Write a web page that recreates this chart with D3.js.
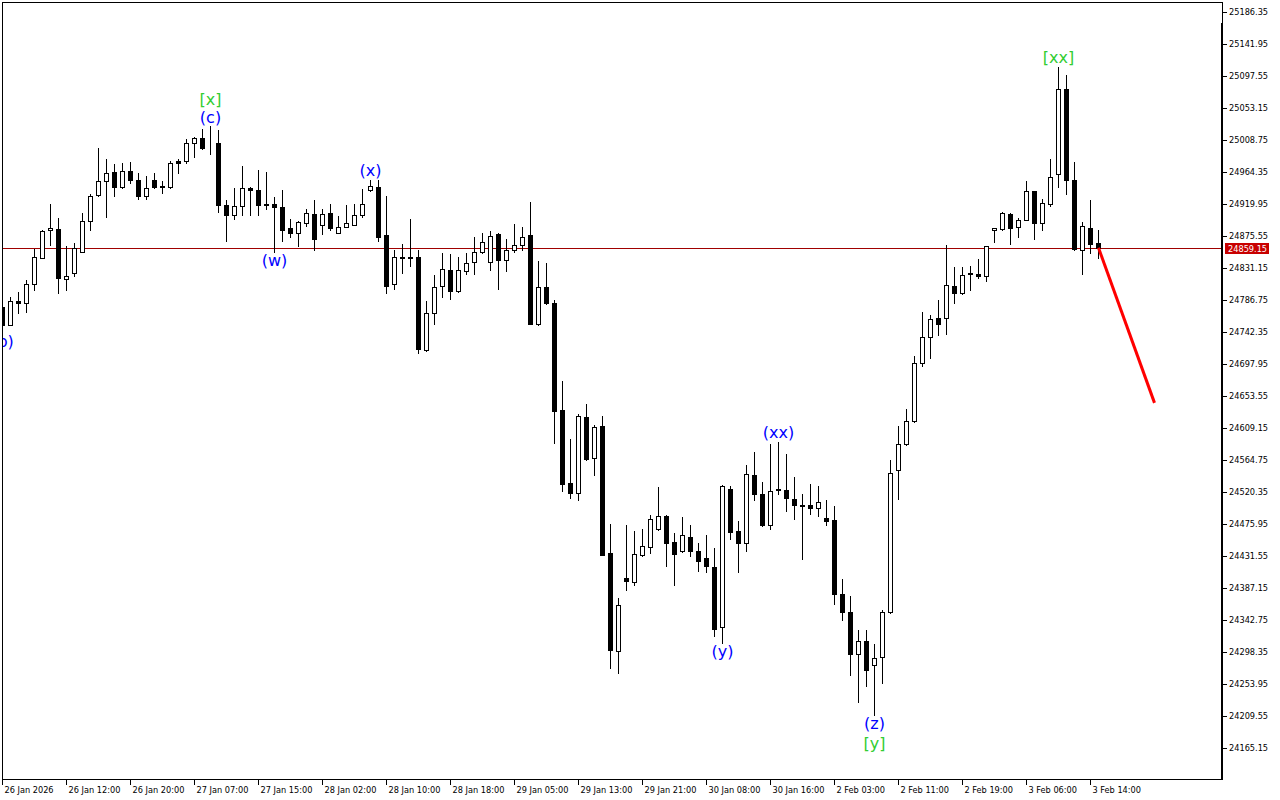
<!DOCTYPE html>
<html><head><meta charset="utf-8">
<script src="https://cdn.jsdelivr.net/npm/d3@7"></script>
<style>body{margin:0;background:#fff}svg{display:block}</style>
</head><body><svg id="c" width="1280" height="800"></svg>
<script>
// ---- data (H1 candles) ----
const opens = [24777.0,24752.1,24785.4,24782.6,24809.0,24845.7,24883.9,24884.6,24815.9,24824.2,
24854.0,24896.4,24932.4,24951.9,24964.4,24944.2,24965.7,24953.3,24930.4,24953.9,
24945.6,24944.2,24980.3,24979.6,25004.6,25012.2,24999.7,25004.6,24918.6,24904.0,
24916.5,24942.8,24939.4,24917.9,24920.6,24915.1,24886.7,24880.4,24893.6,24905.4,
24891.5,24906.8,24880.4,24888.7,24891.5,24904.0,24938.7,24944.2,24877.6,24809.6,
24846.4,24845.7,24846.4,24716.7,24769.4,24805.5,24828.4,24799.9,24826.3,24838.8,
24852.7,24838.8,24878.3,24842.9,24856.8,24862.4,24876.9,24752.8,24804.1,24781.9,
24634.1,24532.8,24518.3,24624.4,24568.2,24611.9,24435.7,24300.4,24401.0,24394.8,
24433.6,24444.7,24469.7,24487.1,24450.3,24437.8,24458.6,24437.8,24428.1,24415.6,
24333.7,24525.2,24466.2,24448.9,24543.9,24517.6,24473.9,24525.2,24523.8,24511.3,
24503.0,24503.0,24497.5,24483.6,24481.5,24379.5,24353.2,24294.9,24314.3,24281.0,
24292.1,24353.2,24550.2,24586.3,24618.2,24699.3,24735.4,24761.8,24761.1,24805.5,
24796.5,24824.2,24823.5,24820.7,24883.2,24884.6,24906.1,24888.7,24898.4,24937.3,
24892.9,24919.3,24960.9,25079.5,24953.3,24856.8,24887.3,24865.8];
const highs = [24779.8,24790.9,24797.9,24814.5,24857.5,24883.9,24920.0,24900.5,24861.0,24865.8,
24907.5,24933.8,24997.0,24982.4,24975.5,24976.8,24978.2,24963.0,24958.8,24963.0,
24951.9,24979.6,24982.4,25010.1,25012.9,25024.7,25027.5,25023.3,24925.5,24942.8,
24972.7,24943.5,24967.1,24965.0,24929.0,24939.4,24899.1,24896.4,24913.0,24925.5,
24913.0,24920.6,24903.3,24918.6,24920.6,24940.8,24953.9,24953.3,24931.1,24856.8,
24865.1,24899.1,24856.1,24785.4,24821.4,24852.0,24850.6,24846.4,24852.0,24873.5,
24879.7,24881.8,24879.7,24871.4,24892.2,24888.0,24922.7,24840.9,24838.1,24786.8,
24674.4,24593.9,24628.6,24642.5,24613.3,24625.8,24476.0,24372.6,24474.6,24466.2,
24469.0,24488.4,24527.3,24488.4,24463.5,24485.7,24474.6,24448.9,24460.0,24442.0,
24530.1,24528.7,24480.1,24557.8,24575.2,24534.9,24587.0,24590.4,24573.1,24540.5,
24517.6,24531.5,24528.7,24509.3,24501.6,24400.3,24376.1,24328.2,24328.2,24310.1,
24356.6,24565.4,24611.9,24636.2,24708.4,24770.1,24766.6,24786.8,24863.1,24832.5,
24832.5,24833.9,24843.6,24861.7,24886.7,24908.2,24907.5,24901.2,24951.9,24938.0,
24926.9,24982.4,25110.7,25098.9,24978.2,24894.3,24925.5,24883.9];
const lows = [24750.7,24751.4,24768.7,24770.1,24800.6,24845.0,24862.4,24795.8,24800.6,24820.7,
24852.7,24883.9,24931.7,24902.6,24930.4,24941.5,24948.4,24926.9,24926.9,24941.5,
24935.9,24942.8,24962.3,24977.5,24984.5,24996.3,24990.0,24909.5,24869.3,24899.1,
24904.7,24904.7,24904.7,24913.0,24853.4,24869.3,24873.5,24861.0,24889.4,24856.1,
24878.3,24883.9,24879.7,24888.0,24891.0,24901.9,24938.0,24869.3,24795.8,24802.7,
24824.9,24833.9,24713.9,24716.0,24752.8,24791.6,24788.8,24798.5,24823.5,24823.5,
24851.3,24827.7,24802.7,24826.3,24854.0,24856.8,24753.5,24751.4,24781.2,24589.0,
24522.4,24512.7,24508.6,24564.8,24543.9,24432.9,24276.8,24269.9,24383.7,24392.0,
24432.2,24436.4,24468.3,24417.0,24392.0,24437.1,24432.2,24411.4,24410.0,24319.9,
24311.5,24455.8,24410.0,24437.8,24509.3,24473.5,24469.0,24517.6,24493.3,24482.2,
24426.7,24490.5,24486.4,24473.9,24365.6,24343.4,24267.1,24228.3,24250.5,24211.6,
24256.0,24352.5,24510.6,24585.6,24617.5,24695.2,24706.3,24738.2,24739.6,24781.9,
24795.1,24800.6,24817.3,24813.8,24867.9,24883.9,24864.5,24873.5,24897.7,24871.4,
24883.9,24916.5,24944.2,24934.5,24856.0,24823.5,24851.3,24845.0];
const closes = [24752.1,24785.4,24782.6,24809.0,24846.4,24881.8,24886.0,24817.3,24820.7,24858.9,
24895.7,24931.7,24951.9,24962.3,24944.2,24965.7,24953.9,24931.7,24941.5,24944.2,
24944.2,24977.5,24977.5,25004.6,25012.2,24998.3,24999.0,24918.6,24904.7,24916.5,
24941.5,24938.7,24917.9,24920.6,24915.1,24883.9,24880.4,24894.3,24906.8,24870.7,
24905.4,24886.0,24888.7,24892.9,24904.0,24920.6,24945.6,24873.5,24805.5,24846.4,
24845.7,24846.4,24718.1,24769.4,24804.1,24829.1,24799.9,24827.7,24837.4,24854.0,
24867.9,24876.2,24842.9,24856.8,24862.4,24873.5,24754.1,24804.1,24781.9,24633.4,
24532.1,24518.3,24625.8,24566.1,24610.5,24433.6,24301.1,24363.6,24396.2,24435.0,
24445.4,24482.2,24486.4,24448.9,24435.0,24460.0,24437.8,24425.3,24417.0,24329.6,
24528.7,24464.2,24448.9,24546.0,24516.9,24473.9,24522.4,24523.8,24512.7,24503.0,
24501.6,24497.5,24505.8,24480.8,24379.5,24353.2,24294.9,24314.3,24272.7,24290.7,
24353.9,24547.4,24586.3,24618.2,24699.3,24735.4,24760.4,24754.1,24806.9,24796.5,
24822.1,24822.8,24819.4,24861.0,24886.0,24906.8,24887.3,24898.4,24937.3,24892.9,
24922.0,24957.4,25080.2,24952.6,24857.5,24889.4,24863.8,24859.15];

const timeLabels = ["26 Jan 2026","26 Jan 12:00","26 Jan 20:00","27 Jan 07:00","27 Jan 15:00",
"28 Jan 02:00","28 Jan 10:00","28 Jan 18:00","29 Jan 05:00","29 Jan 13:00","29 Jan 21:00",
"30 Jan 08:00","30 Jan 16:00","2 Feb 03:00","2 Feb 11:00","2 Feb 19:00","3 Feb 06:00","3 Feb 14:00"];
const labelEvery = 8;

const priceTicks = [25186.35,25141.95,25097.55,25053.15,25008.75,24964.35,24919.95,24875.55,
24831.15,24786.75,24742.35,24697.95,24653.55,24609.15,24564.75,24520.35,24475.95,24431.55,
24387.15,24342.75,24298.35,24253.95,24209.55,24165.15];

const lastPrice = 24859.15;

// wave labels: bar index, text, colour group, side, stack level, optional pivot price
const waveIdx   = [0, 26, 26, 34, 46, 90, 97, 109, 109, 132];
const waveText  = ["(b)","(c)","[x]","(w)","(x)","(y)","(xx)","(z)","[y]","[xx]"];
const waveGroup = ["minor","minor","major","minor","minor","minor","minor","minor","major","major"];
const waveSide  = ["below","above","above","below","above","below","above","below","below","above"];
const waveLevel = [0,0,1,0,0,0,0,0,1,0];
const wavePivot = [24742, null, null, null, null, null, null, null, null, null];

// projected path (bar index, price)
const forecastIdx   = [137, 144];
const forecastPrice = [24859.15, 24644];

// ---- drawing ----
const W = 1280, H = 800;
const plotL = 2, plotR = 1222, plotT = 2, plotB = 779;
const svg = d3.select("#c");
const n = opens.length;
const bars = d3.range(n).map(i => ({i, o: opens[i], h: highs[i], l: lows[i], c: closes[i]}));

const x = d3.scaleLinear().domain([0, n - 1]).range([2, 2 + 8 * (n - 1)]);
const y = d3.scaleLinear().domain([24165.15, 25186.35]).range([748, 12]);
const sy = v => Math.round(y(v));

svg.append("rect").attr("width", W).attr("height", H).attr("fill", "#fff");

svg.append("defs").append("clipPath").attr("id", "plotclip")
  .append("rect").attr("x", plotL).attr("y", plotT).attr("width", plotR - plotL).attr("height", plotB - plotT);

const plot = svg.append("g").attr("clip-path", "url(#plotclip)");

// current price line
plot.append("line")
  .attr("x1", plotL).attr("x2", plotR)
  .attr("y1", sy(lastPrice) + 0.5).attr("y2", sy(lastPrice) + 0.5)
  .attr("stroke", "#a00000").attr("stroke-width", 1);

// wicks
plot.append("g").selectAll("line").data(bars).join("line")
  .attr("x1", d => x(d.i) + 0.5).attr("x2", d => x(d.i) + 0.5)
  .attr("y1", d => sy(d.h)).attr("y2", d => sy(d.l) + 1)
  .attr("stroke", "#000").attr("stroke-width", 1);

// bodies
plot.append("g").selectAll("rect").data(bars).join("rect")
  .attr("x", d => x(d.i) - 1.5)
  .attr("width", 4)
  .attr("y", d => sy(Math.max(d.o, d.c)) + 0.5)
  .attr("height", d => Math.max(0, sy(Math.min(d.o, d.c)) - sy(Math.max(d.o, d.c))))
  .attr("fill", d => d.c >= d.o ? "#fff" : "#000")
  .attr("stroke", "#000").attr("stroke-width", 1);

// wave labels
const colors = {minor: "#0000ff", major: "#32cd32"};
const waves = waveIdx.map((i, k) => ({
  i, text: waveText[k], group: waveGroup[k], side: waveSide[k], level: waveLevel[k],
  p: wavePivot[k] != null ? wavePivot[k] : (waveSide[k] === "above" ? highs[i] : lows[i])
}));
plot.append("g").selectAll("text").data(waves).join("text")
  .attr("x", d => x(d.i) + 0.5)
  .attr("y", d => d.side === "above" ? y(d.p) - 9 - 18 * d.level : y(d.p) + 9 + 20 * d.level)
  .attr("text-anchor", "middle").attr("dominant-baseline", "central")
  .attr("font-family", "DejaVu Sans, sans-serif").attr("font-size", 16)
  .attr("fill", d => colors[d.group])
  .text(d => d.text);

// forecast line
const fc = forecastIdx.map((i, k) => [x(i) + 0.5, y(forecastPrice[k])]);
svg.append("path").attr("d", d3.line()(fc))
  .attr("fill", "none").attr("stroke", "#ff0000").attr("stroke-width", 3);

// frame
svg.append("line").attr("x1", plotL + 0.5).attr("x2", plotL + 0.5).attr("y1", plotT).attr("y2", plotB + 1)
  .attr("stroke", "#000");
svg.append("line").attr("x1", plotL).attr("x2", plotR + 1).attr("y1", plotT + 0.5).attr("y2", plotT + 0.5)
  .attr("stroke", "#000");

// y axis (right)
const yAxis = svg.append("g").attr("transform", `translate(${plotR},0)`)
  .call(d3.axisRight(y).tickValues(priceTicks).tickSize(5).tickPadding(2).tickFormat(d3.format(".2f")));
yAxis.select(".domain").remove();
yAxis.selectAll("text").attr("font-family", "DejaVu Sans, sans-serif").attr("font-size", 8.2).attr("fill", "#000");
yAxis.selectAll(".tick line").attr("stroke", "#000");
svg.append("line").attr("x1", plotR + 0.5).attr("x2", plotR + 0.5).attr("y1", plotT).attr("y2", 23)
  .attr("stroke", "#000").attr("stroke-width", 1);
svg.append("line").attr("x1", plotR).attr("x2", plotR).attr("y1", 23).attr("y2", plotB + 1)
  .attr("stroke", "#000").attr("stroke-width", 2);

// last price tag
const lp = svg.append("g");
lp.append("rect").attr("x", plotR + 3).attr("y", sy(lastPrice) - 5).attr("width", 44).attr("height", 11)
  .attr("fill", "#c80000");
lp.append("text").attr("x", plotR + 6).attr("y", sy(lastPrice) + 0.5)
  .attr("dominant-baseline", "central")
  .attr("font-family", "DejaVu Sans, sans-serif").attr("font-size", 8.2).attr("fill", "#fff")
  .text(d3.format(".2f")(lastPrice));

// x axis (bottom)
const tickIdx = d3.range(0, n, labelEvery);
const xAxis = svg.append("g").attr("transform", `translate(0,${plotB})`)
  .call(d3.axisBottom(x).tickValues(tickIdx).tickSize(6).tickPadding(2)
    .tickFormat((d, k) => timeLabels[k]));
xAxis.select(".domain").remove();
xAxis.selectAll(".tick line").attr("stroke", "#000");
xAxis.selectAll("text").attr("text-anchor", "start").attr("dx", 2)
  .attr("font-family", "DejaVu Sans, sans-serif").attr("font-size", 8.2).attr("fill", "#000");
svg.append("line").attr("x1", plotL).attr("x2", plotR + 1).attr("y1", plotB + 0.5).attr("y2", plotB + 0.5)
  .attr("stroke", "#000");
</script></body></html>
